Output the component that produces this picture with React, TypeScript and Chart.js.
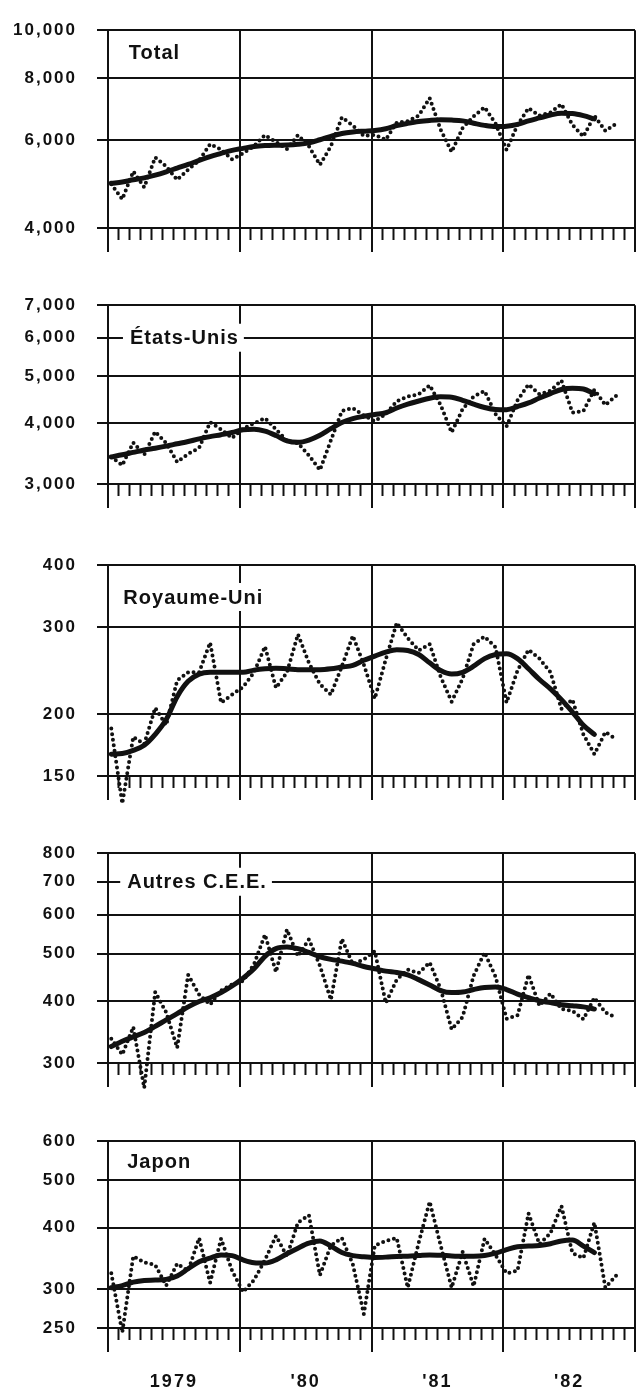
import React, { useEffect, useRef } from "react";
import { Chart, registerables } from "chart.js";

Chart.register(...registerables);

// ---------------- data ----------------
const yearLabels = ["1979", "'80", "'81", "'82"];
const panelTitles = ["Total", "États-Unis", "Royaume-Uni", "Autres C.E.E.", "Japon"];

// monthly values, Jan 1979 .. Nov 1982 (dotted line)
const totalMonthly = [4900, 4570, 5200, 4830, 5550, 5320, 5000, 5240, 5470, 5900, 5750, 5500, 5650, 5850, 6150, 5960, 5770, 6150, 5840, 5360, 5840, 6680, 6430, 6130, 6160, 6020, 6520, 6560, 6730, 7300, 6310, 5690, 6360, 6710, 7000, 6490, 5740, 6450, 6970, 6730, 6830, 7100, 6450, 6110, 6730, 6270, 6490];
const usMonthly = [3410, 3280, 3650, 3445, 3845, 3640, 3330, 3460, 3560, 4020, 3885, 3730, 3900, 4000, 4100, 3885, 3680, 3640, 3435, 3205, 3690, 4240, 4300, 4150, 4040, 4180, 4440, 4540, 4590, 4790, 4360, 3830, 4280, 4540, 4660, 4180, 3940, 4460, 4810, 4590, 4670, 4900, 4210, 4240, 4690, 4360, 4560];
const ukMonthly = [187, 132, 180, 174, 206, 190, 234, 243, 243, 279, 211, 219, 227, 243, 274, 226, 243, 290, 254, 230, 219, 250, 288, 252, 215, 258, 306, 285, 269, 277, 238, 212, 236, 277, 287, 273, 211, 245, 270, 259, 243, 205, 214, 182, 166, 184, 178];
const ceeMonthly = [336, 312, 355, 267, 418, 380, 322, 453, 413, 394, 421, 433, 440, 476, 547, 459, 560, 494, 535, 473, 403, 536, 476, 487, 506, 397, 443, 464, 457, 480, 424, 351, 372, 451, 503, 449, 369, 375, 453, 392, 415, 386, 383, 368, 407, 380, 371];
const japanMonthly = [323, 245, 350, 340, 336, 305, 338, 327, 381, 309, 380, 327, 296, 313, 344, 385, 350, 410, 424, 320, 368, 381, 337, 267, 368, 376, 381, 302, 373, 452, 368, 302, 357, 304, 380, 352, 323, 327, 428, 370, 390, 443, 355, 347, 410, 302, 320];

// trend values, Jan 1979 .. Sep 1982 (solid line)
const totalTrend = [4920, 4950, 5000, 5045, 5110, 5190, 5280, 5370, 5470, 5570, 5650, 5730, 5785, 5835, 5860, 5870, 5875, 5895, 5935, 6020, 6115, 6195, 6240, 6265, 6285, 6335, 6430, 6495, 6550, 6585, 6605, 6595, 6570, 6500, 6435, 6400, 6410, 6465, 6570, 6660, 6750, 6805, 6795, 6730, 6630];
const usTrend = [3410, 3445, 3485, 3525, 3555, 3590, 3630, 3670, 3715, 3755, 3790, 3830, 3880, 3890, 3855, 3775, 3680, 3655, 3695, 3780, 3900, 4015, 4090, 4135, 4170, 4205, 4300, 4380, 4445, 4505, 4535, 4525, 4460, 4380, 4310, 4270, 4265, 4330, 4405, 4510, 4605, 4695, 4725, 4705, 4605];
const ukTrend = [166, 166.5, 169, 173, 182, 195, 217, 233, 241, 243, 243, 243, 243, 245.5, 247, 247.5, 247, 246, 246, 246, 247, 249, 251, 257, 262, 267, 270, 269, 264, 254, 245, 241, 243, 250, 259, 264, 265, 259, 247, 235, 225, 214, 202, 190, 182];
const ceeTrend = [324, 332, 339, 346, 356, 367, 378, 390, 400, 407, 417, 430, 446, 466, 494, 512, 516, 512, 503, 493, 487, 483, 478, 471, 466, 461, 458, 453, 443, 432, 421, 417, 418, 423, 427, 428, 423, 414, 407, 401, 398, 394, 392, 390, 386];
const japanTrend = [302, 305, 310, 312.5, 313, 314, 319, 330, 341, 347, 352, 351, 344, 339.5, 339, 344, 354, 363.5, 372, 376, 367, 356, 351, 349, 348, 348.5, 349.5, 350, 351, 352, 351.5, 350.5, 350, 350, 351, 355, 361, 366, 367, 368, 371, 376, 377.5, 367, 356];

// y-axis tick labels
const totalTicks = [4000, 6000, 8000, 10000];
const usTicks = [3000, 4000, 5000, 6000, 7000];
const ukTicks = [150, 200, 300, 400];
const ceeTicks = [300, 400, 500, 600, 700, 800];
const japanTicks = [250, 300, 400, 500, 600];

// ---------------- layout / style ----------------
const INK = "#111111";
const FONT = '"Liberation Sans", Arial, Helvetica, sans-serif';
const PAGE_W = 641;
const PAGE_H = 1396;
const AXIS_W = 108;
const RIGHT_PAD = 6;
const TOP_PAD = 14;
const MONTHS = 48;
const POINT_SHIFT = 0.3;

type Panel = {
  title: string;
  monthly: number[];
  trend: number[];
  ticks: number[];
  top: number;
  bottom: number;
  titleMonth: number;
  titleValue: number;
  withYears: boolean;
};

const panels: Panel[] = [
  { title: panelTitles[0], monthly: totalMonthly, trend: totalTrend, ticks: totalTicks, top: 14, bottom: 228, titleMonth: 1.9, titleValue: 9000, withYears: false },
  { title: panelTitles[1], monthly: usMonthly, trend: usTrend, ticks: usTicks, top: 289, bottom: 484, titleMonth: 2.0, titleValue: 6000, withYears: false },
  { title: panelTitles[2], monthly: ukMonthly, trend: ukTrend, ticks: ukTicks, top: 549, bottom: 776, titleMonth: 1.4, titleValue: 345, withYears: false },
  { title: panelTitles[3], monthly: ceeMonthly, trend: ceeTrend, ticks: ceeTicks, top: 837, bottom: 1063, titleMonth: 1.75, titleValue: 700, withYears: false },
  { title: panelTitles[4], monthly: japanMonthly, trend: japanTrend, ticks: japanTicks, top: 1125, bottom: 1328, titleMonth: 1.75, titleValue: 545, withYears: true },
];

const BOTTOM_SPACE = 34;
const MONTH_AXIS_H_LAST = 26;
const YEAR_AXIS_H = 42;
const YEAR_DROP = 24;

const decorPlugin = {
  id: "decor",
  beforeDraw(chart: any) {
    chart.ctx.letterSpacing = "2px";
  },
  afterDraw(chart: any, _args: any, opts: any) {
    const { ctx, chartArea, scales } = chart;
    const xs = scales.x;
    const ys = scales.y;
    ctx.save();
    ctx.letterSpacing = "0px";
    ctx.strokeStyle = INK;
    ctx.lineWidth = 2;
    for (let v = 0; v <= MONTHS; v += 12) {
      const px = Math.round(xs.getPixelForValue(v));
      ctx.beginPath();
      ctx.moveTo(px, chartArea.bottom);
      ctx.lineTo(px, chartArea.bottom + YEAR_DROP);
      ctx.stroke();
    }
    ctx.font = `bold 20px ${FONT}`;
    ctx.letterSpacing = "1px";
    const tx = xs.getPixelForValue(opts.titleMonth);
    const ty = ys.getPixelForValue(opts.titleValue);
    const w = ctx.measureText(opts.title).width;
    ctx.fillStyle = "#ffffff";
    ctx.fillRect(tx - 7, ty - 14, w + 12, 28);
    ctx.fillStyle = INK;
    ctx.textAlign = "left";
    ctx.textBaseline = "middle";
    ctx.fillText(opts.title, tx, ty + 1);
    ctx.restore();
    ctx.letterSpacing = "0px";
  },
};

function PanelChart({ p }: { p: Panel }) {
  const ref = useRef<HTMLCanvasElement | null>(null);
  const bottomSpace = p.withYears ? MONTH_AXIS_H_LAST + YEAR_AXIS_H : BOTTOM_SPACE;
  const canvasTop = p.top - TOP_PAD;
  const canvasH = p.bottom - p.top + TOP_PAD + bottomSpace;

  useEffect(() => {
    if (!ref.current) return;
    const monthTicks = Array.from({ length: MONTHS + 1 }, (_, k) => ({ value: k }));
    const yearCenters = yearLabels.map((_, k) => ({ value: k * 12 + 6 }));
    const isYear = (c: any) => c.tick && Math.round(c.tick.value) % 12 === 0;

    const scales: any = {
      y: {
        type: "logarithmic",
        position: "left",
        min: p.ticks[0],
        max: p.ticks[p.ticks.length - 1],
        afterBuildTicks: (s: any) => {
          s.ticks = p.ticks.map((v) => ({ value: v }));
        },
        afterFit: (s: any) => {
          s.width = AXIS_W;
        },
        ticks: {
          autoSkip: false,
          color: INK,
          padding: 20,
          font: { family: FONT, size: 17, weight: "bold" },
          callback: (v: any) => Number(v).toLocaleString("en-US"),
        },
        grid: { color: INK, lineWidth: 2, tickLength: 11, drawTicks: true },
        border: { display: true, color: INK, width: 2 },
      },
      x: {
        type: "linear",
        position: "bottom",
        weight: 0,
        min: 0,
        max: MONTHS,
        afterBuildTicks: (s: any) => {
          s.ticks = monthTicks.map((t) => ({ ...t }));
        },
        afterFit: (s: any) => {
          s.height = p.withYears ? MONTH_AXIS_H_LAST : BOTTOM_SPACE;
        },
        ticks: { display: false, autoSkip: false },
        grid: {
          drawOnChartArea: true,
          drawTicks: true,
          tickLength: 12,
          color: (c: any) => (isYear(c) ? INK : "rgba(0,0,0,0)"),
          lineWidth: (c: any) => (isYear(c) ? 2 : 1),
          tickColor: INK,
          tickWidth: 2,
        },
        border: { display: true, color: INK, width: 2 },
      },
    };
    if (p.withYears) {
      scales.yl = {
        type: "linear",
        position: "bottom",
        axis: "x",
        weight: 1,
        min: 0,
        max: MONTHS,
        afterBuildTicks: (s: any) => {
          s.ticks = yearCenters.map((t) => ({ ...t }));
        },
        afterFit: (s: any) => {
          s.height = YEAR_AXIS_H;
        },
        ticks: {
          autoSkip: false,
          maxRotation: 0,
          color: INK,
          padding: 17,
          font: { family: FONT, size: 18, weight: "bold" },
          callback: (_v: any, i: number) => yearLabels[i],
        },
        grid: { display: false, drawTicks: false },
        border: { display: false },
      };
    }

    const chart = new Chart(ref.current, {
      type: "line",
      data: {
        datasets: [
          {
            data: p.trend.map((v, i) => ({ x: i + POINT_SHIFT, y: v })),
            borderColor: INK,
            borderWidth: 5,
            borderCapStyle: "round",
            borderJoinStyle: "round",
            cubicInterpolationMode: "monotone",
            pointRadius: 0,
            clip: false,
            order: 0,
          },
          {
            data: p.monthly.map((v, i) => ({ x: i + POINT_SHIFT, y: v })),
            borderColor: INK,
            borderWidth: 4,
            borderDash: [0, 5.6],
            borderCapStyle: "round",
            borderJoinStyle: "round",
            tension: 0,
            pointRadius: 0,
            clip: false,
            order: 1,
          },
        ],
      } as any,
      options: {
        responsive: false,
        maintainAspectRatio: false,
        animation: false,
        devicePixelRatio: 1,
        events: [],
        layout: { padding: { top: TOP_PAD, right: RIGHT_PAD, left: 0, bottom: 0 } },
        plugins: {
          legend: { display: false },
          tooltip: { enabled: false },
          title: { display: false },
          decor: { title: p.title, titleMonth: p.titleMonth, titleValue: p.titleValue },
        } as any,
        scales,
      },
      plugins: [decorPlugin as any],
    });
    return () => chart.destroy();
  }, [p]);

  return (
    <canvas
      ref={ref}
      width={PAGE_W}
      height={canvasH}
      style={{ position: "absolute", left: 0, top: canvasTop, width: PAGE_W, height: canvasH, display: "block" }}
    />
  );
}

export default function App() {
  return (
    <div
      style={{
        position: "absolute",
        left: 0,
        top: 0,
        width: PAGE_W,
        height: PAGE_H,
        overflow: "hidden",
        background: "#ffffff",
      }}
    >
      {panels.map((p) => (
        <PanelChart key={p.title} p={p} />
      ))}
    </div>
  );
}
